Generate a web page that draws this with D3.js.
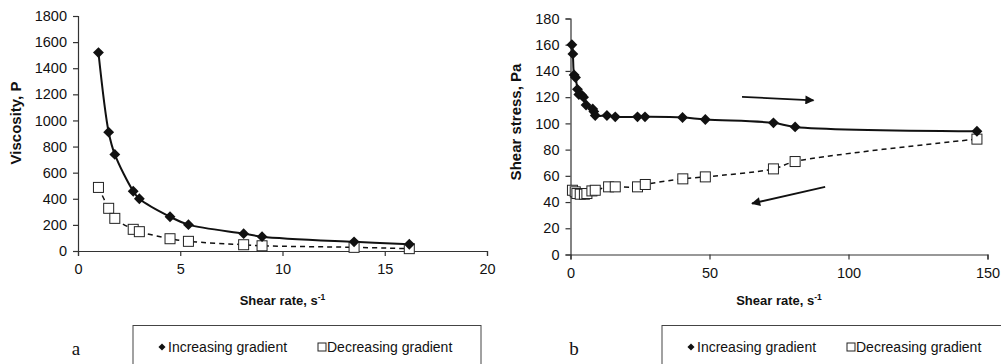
<!DOCTYPE html>
<html>
<head>
<meta charset="utf-8">
<script src="https://cdn.jsdelivr.net/npm/d3@7"></script>
<style>
  html, body { margin: 0; padding: 0; background: #fff; }
  svg { display: block; font-family: "Liberation Sans", Arial, sans-serif; }
</style>
</head>
<body>
<svg id="chart" width="1001" height="364"></svg>
<script>
// panel a: viscosity vs shear rate
const rateA = [1.0, 1.5, 1.8, 2.7, 3.0, 4.5, 5.4, 8.1, 9.0, 13.5, 16.2];
const viscInc = [1520, 910, 740, 458, 400, 262, 202, 133, 110, 70, 52];
const viscDec = [487, 327, 250, 166, 148, 94, 74, 48, 40, 28, 18];
const xTicksA = [0, 5, 10, 15, 20];
const yTicksA = [0, 200, 400, 600, 800, 1000, 1200, 1400, 1600, 1800];

// panel b: shear stress vs shear rate
const rateBInc = [0.5, 0.85, 1.3, 1.8, 2.5, 3.0, 4.1, 4.7, 5.6, 8.0, 8.4, 8.9, 13.1, 16.1, 24.1, 26.8, 40.3, 48.5, 73, 80.8, 146.2];
const stressInc = [160, 153, 137, 135, 126, 122, 121.5, 120, 114, 111, 109, 106, 106, 105, 105, 105, 104.5, 103, 100.4, 97.3, 94];
const rateBDec = [0.7, 1.7, 2.3, 3.5, 5.0, 5.9, 7.7, 8.9, 13.7, 16.1, 24.1, 26.9, 40.4, 48.5, 73, 80.8, 146.2];
const stressDec = [49, 47.8, 46.5, 46, 46, 46.5, 48.5, 49, 51.6, 51.6, 51.6, 53.4, 57.7, 59.2, 65.3, 70.9, 88];
const xTicksB = [0, 50, 100, 150];
const yTicksB = [0, 20, 40, 60, 80, 100, 120, 140, 160, 180];

const legendLabels = ["Increasing gradient", "Decreasing gradient"];

const svg = d3.select("#chart");

function panel(cfg) {
  const x = d3.scaleLinear().domain(cfg.xDomain).range([cfg.left, cfg.right]);
  const y = d3.scaleLinear().domain(cfg.yDomain).range([cfg.bottom, cfg.top]);
  const g = svg.append("g");

  // axes
  const xa = g.append("g").attr("transform", `translate(0,${cfg.bottom})`)
    .call(d3.axisBottom(x).tickValues(cfg.xTicks).tickFormat(d3.format("d")).tickSize(5).tickPadding(8));
  const ya = g.append("g").attr("transform", `translate(${cfg.left},0)`)
    .call(d3.axisLeft(y).tickValues(cfg.yTicks).tickFormat(d3.format("d")).tickSize(5).tickPadding(6));
  [xa, ya].forEach(a => {
    a.select(".domain").attr("stroke", "#333").attr("stroke-width", 1.2);
    a.selectAll(".tick line").attr("stroke", "#333").attr("stroke-width", 1.2);
    a.selectAll(".tick text").attr("fill", "#111").style("font-size", "14.5px")
      .style("font-family", "'Liberation Sans', Arial, sans-serif");
  });

  // axis titles
  const xt = g.append("text").attr("x", (cfg.left + cfg.right) / 2).attr("y", 305)
    .attr("text-anchor", "middle").style("font-size", "13px").style("font-weight", "bold")
    .attr("fill", "#111");
  xt.append("tspan").text("Shear rate, s");
  xt.append("tspan").attr("dy", -5).style("font-size", "8.5px").text("-1");

  g.append("text")
    .attr("transform", `translate(${cfg.yTitleX},${cfg.yTitleY}) rotate(-90)`)
    .attr("text-anchor", "middle").style("font-size", "15px").style("font-weight", "bold")
    .attr("fill", "#111").text(cfg.yTitle);

  // lines
  const curve = d3.curveCatmullRom.alpha(0.5);
  const inc = cfg.incX.map((v, i) => [v, cfg.incY[i]]);
  const dec = cfg.decX.map((v, i) => [v, cfg.decY[i]]);
  const line = d3.line().x(d => x(d[0])).y(d => y(d[1])).curve(curve);
  g.append("path").attr("d", line(dec)).attr("fill", "none").attr("stroke", "#111")
    .attr("stroke-width", 1.5).attr("stroke-dasharray", "5,4");
  g.append("path").attr("d", line(inc)).attr("fill", "none").attr("stroke", "#111")
    .attr("stroke-width", 2);

  // markers
  const diamond = d3.symbol().type(d3.symbolDiamond2).size(75);
  g.selectAll(".sq").data(dec).enter().append("rect")
    .attr("x", d => x(d[0]) - 5).attr("y", d => y(d[1]) - 5)
    .attr("width", 10).attr("height", 10)
    .attr("fill", "#fff").attr("stroke", "#222").attr("stroke-width", 1);
  g.selectAll(".dm").data(inc).enter().append("path")
    .attr("d", diamond).attr("transform", d => `translate(${x(d[0])},${y(d[1])})`)
    .attr("fill", "#111");

  // legend
  const lg = g.append("g");
  lg.append("rect").attr("x", cfg.legX).attr("y", 325.5).attr("width", cfg.legW).attr("height", 50)
    .attr("fill", "#fff").attr("stroke", "#444").attr("stroke-width", 1);
  lg.append("path").attr("d", d3.symbol().type(d3.symbolDiamond2).size(32))
    .attr("transform", `translate(${cfg.legX + 29},${347})`).attr("fill", "#111");
  lg.append("text").attr("x", cfg.legX + 35).attr("y", 352).style("font-size", "14px")
    .attr("fill", "#111").text(legendLabels[0]);
  lg.append("rect").attr("x", cfg.legX + 185).attr("y", 343).attr("width", 8).attr("height", 8)
    .attr("fill", "#fff").attr("stroke", "#222").attr("stroke-width", 1);
  lg.append("text").attr("x", cfg.legX + 194).attr("y", 352).style("font-size", "14px")
    .attr("fill", "#111").text(legendLabels[1]);

  g.append("text").attr("x", cfg.tagX).attr("y", 355).attr("text-anchor", "middle")
    .style("font-family", "'Liberation Serif', 'Times New Roman', serif").style("font-size", "19px")
    .attr("fill", "#111").text(cfg.tag);

  return { g, x, y };
}

panel({
  left: 78, right: 487, top: 16, bottom: 251,
  xDomain: [0, 20], yDomain: [0, 1800], xTicks: xTicksA, yTicks: yTicksA,
  incX: rateA, incY: viscInc, decX: rateA, decY: viscDec,
  yTitle: "Viscosity, P", yTitleX: 21, yTitleY: 123,
  legX: 133, legW: 348, tag: "a", tagX: 76
});

const pb = panel({
  left: 570.5, right: 987.5, top: 18.5, bottom: 254.5,
  xDomain: [0, 150], yDomain: [0, 180], xTicks: xTicksB, yTicks: yTicksB,
  incX: rateBInc, incY: stressInc, decX: rateBDec, decY: stressDec,
  yTitle: "Shear stress, Pa", yTitleX: 521, yTitleY: 122,
  legX: 662, legW: 360, tag: "b", tagX: 574
});

// direction arrows on panel b
const arrows = [
  { from: [61.7, 120.2], to: [87.4, 117.6] },
  { from: [91.6, 51.6], to: [65.3, 38.9] }
];
svg.append("defs").append("marker").attr("id", "ah")
  .attr("viewBox", "0 0 10 10").attr("refX", 9).attr("refY", 5)
  .attr("markerWidth", 12).attr("markerHeight", 9).attr("orient", "auto")
  .attr("markerUnits", "userSpaceOnUse")
  .append("path").attr("d", "M0,0 L10,5 L0,10 z").attr("fill", "#111");
arrows.forEach(a => {
  pb.g.append("line")
    .attr("x1", pb.x(a.from[0])).attr("y1", pb.y(a.from[1]))
    .attr("x2", pb.x(a.to[0])).attr("y2", pb.y(a.to[1]))
    .attr("stroke", "#111").attr("stroke-width", 1.8).attr("marker-end", "url(#ah)");
});
</script>
</body>
</html>
